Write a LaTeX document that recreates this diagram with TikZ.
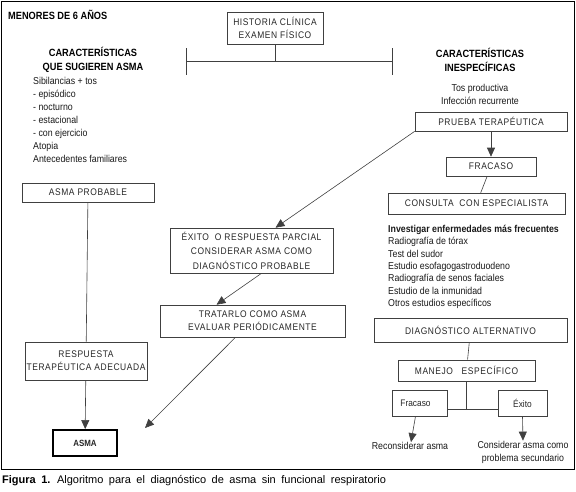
\documentclass[tikz,border=0pt]{standalone}
\usepackage{fontspec}
\setmainfont[FakeStretch=0.88]{Liberation Sans}
\newfontfamily\cajafont[FakeStretch=0.88,LetterSpace=6]{Liberation Sans}
\newfontfamily\piefont{Liberation Sans}
\usetikzlibrary{arrows.meta, positioning}
\tikzset{
    caja/.style={draw=black!75, line width=0.6pt, inner sep=0pt, align=center,
        font=\cajafont\fontsize{9.6}{13}\selectfont, text=black!85},
    texto/.style={inner sep=0pt, align=left, font=\fontsize{10}{13}\selectfont, text=black!90},
    titulo/.style={inner sep=0pt, align=center, font=\bfseries\fontsize{10.5}{14}\selectfont},
    linea/.style={draw=black!75, line width=0.6pt},
    flecha/.style={linea, -{Triangle[length=9pt,width=8pt]}},
}
\begin{document}
\begin{tikzpicture}[x=1pt, y=-1pt]
\useasboundingbox (0,0) rectangle (576,491);
\draw[line width=0.8pt] (1,1) rectangle (574,469);
\node[titulo, anchor=west] (menores) at (8,15) {MENORES DE 6 AÑOS};
% parte superior
\node[caja, minimum width=96pt, minimum height=32pt] (historia) at (275,28) {HISTORIA CLÍNICA\\EXAMEN FÍSICO};
\coordinate (barI) at (186,61);
\coordinate (barD) at (392,61);
\draw[linea] (historia.south) -- (historia.south |- barI);
\draw[linea] (barI) -- (barD);
\draw[linea] ([yshift=13pt]barI) -- ([yshift=-14pt]barI);
\draw[linea] ([yshift=13pt]barD) -- ([yshift=-14pt]barD);
% columna izquierda
\node[titulo] (sugieren) at (93,59.5) {CARACTERÍSTICAS\\QUE SUGIEREN ASMA};
\node[texto, anchor=north west] (lista) at (33,77.5) {Sibilancias + tos\\- episódico\\- nocturno\\- estacional\\- con ejercicio\\Atopia\\Antecedentes familiares};
\node[caja, minimum width=132pt, minimum height=19pt] (probable) at (88,192.5) {ASMA PROBABLE};
\node[caja, minimum width=122pt, minimum height=38pt] (respuesta) at (86,361) {RESPUESTA\\TERAPÉUTICA ADECUADA};
\node[caja, line width=1.8pt, draw=black, minimum width=64pt, minimum height=26pt, font=\bfseries\fontsize{9}{10}\selectfont] (asma) at (85,443) {ASMA};
\draw[linea] (probable) -- (respuesta);
\draw[flecha] (respuesta) -- (asma);
% columna central
\node[caja, minimum width=163pt, minimum height=45pt, font=\cajafont\fontsize{9.6}{14.5}\selectfont] (exito) at (251.5,250.5) {ÉXITO\ \ O RESPUESTA PARCIAL\\CONSIDERAR ASMA COMO\\DIAGNÓSTICO PROBABLE};
\node[caja, minimum width=185pt, minimum height=32pt] (tratarlo) at (252.5,321) {TRATARLO COMO ASMA\\EVALUAR PERIÓDICAMENTE};
\coordinate (finasma) at (145,428);
% columna derecha
\node[titulo] (inespecificas) at (480,59.5) {CARACTERÍSTICAS\\INESPECÍFICAS};
\node[texto, align=center] (tos) at (480,94.5) {Tos productiva\\Infección recurrente};
\node[caja, minimum width=152pt, minimum height=19pt] (prueba) at (491,121.5) {PRUEBA\ TERAPÉUTICA};
\node[caja, minimum width=90pt, minimum height=19pt] (fracaso) at (491,166.5) {FRACASO};
\node[caja, minimum width=177pt, minimum height=21pt] (consulta) at (476.5,203.5) {CONSULTA\ \ CON ESPECIALISTA};
\node[texto, anchor=north west, font=\fontsize{10}{12.3}\selectfont] (investigar) at (388,225) {\textbf{Investigar enfermedades más frecuentes}\\Radiografía de tórax\\Test del sudor\\Estudio esofagogastroduodeno\\Radiografía de senos faciales\\Estudio de la inmunidad\\Otros estudios específicos};
\node[caja, minimum width=193pt, minimum height=24pt] (diagnostico) at (470.5,330) {DIAGNÓSTICO\ ALTERNATIVO};
\node[caja, minimum width=137pt, minimum height=21pt] (manejo) at (466.5,370.5) {MANEJO\ \ \ ESPECÍFICO};
\node[caja, minimum width=55pt, minimum height=26pt, font=\fontsize{9.5}{10}\selectfont] (fracasob) at (419.5,403) {Fracaso\hspace{8pt}};
\node[caja, minimum width=49pt, minimum height=26pt, font=\fontsize{9.5}{10}\selectfont] (exitob) at (522.5,403) {Éxito};
\node[texto, align=center] (reconsiderar) at (410,446) {Reconsiderar asma};
\node[texto, align=center] (considerar) at (523,452) {Considerar asma como\\problema secundario};
\coordinate (cruce) at ([yshift=-6pt]fracasob.east);
% conectores
\draw[flecha] (prueba) -- (fracaso);
\draw[linea] (fracaso) -- (consulta);
\draw[flecha] (prueba.south west) -- ([xshift=24pt]exito.north);
\draw[flecha] ([xshift=10pt]exito.south) -- ([xshift=-36pt]tratarlo.north);
\draw[flecha] ([xshift=-17pt]tratarlo.south) -- (finasma);
\draw[linea] (diagnostico) -- (manejo);
\draw[linea] (cruce) -- (cruce -| exitob.west);
\draw[linea] (manejo.south) -- (manejo.south |- cruce);
\draw[flecha] ([xshift=-4pt]fracasob.south) -- ([xshift=1pt]reconsiderar.north);
\draw[flecha] (exitob.south) -- (considerar.north);
% pie
\node[anchor=west, inner sep=0pt, font=\piefont\fontsize{11}{12}\selectfont] (pie) at (2,481) {\spaceskip=5.5pt\relax\textbf{Figura 1.} Algoritmo para el diagnóstico de asma sin funcional respiratorio};
\end{tikzpicture}
\end{document}
